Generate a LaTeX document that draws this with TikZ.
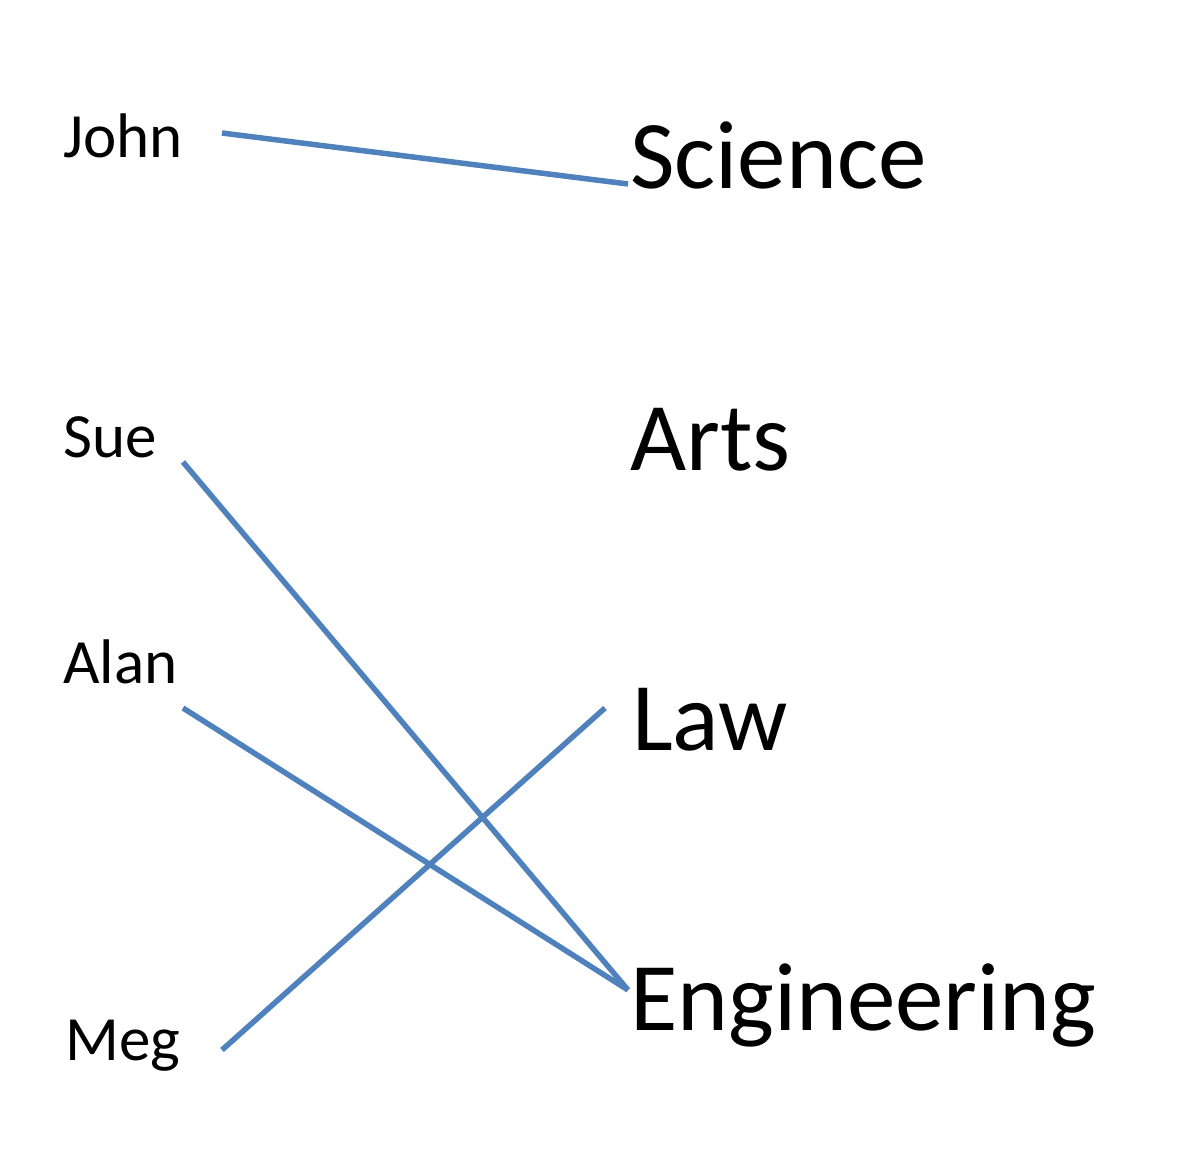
\documentclass[tikz,border=0pt]{standalone}
\usepackage{fontspec}
\setmainfont{Carlito}
\definecolor{linkblue}{HTML}{4F81BD}
\begin{document}
\begin{tikzpicture}[x=1pt,y=-1pt,
  person/.style={inner sep=0pt,anchor=base west,font=\fontsize{63}{70}\selectfont},
  field/.style={inner sep=0pt,anchor=base west,font=\fontsize{97}{110}\selectfont},
  link/.style={draw=linkblue,line width=5.5pt}]
\useasboundingbox (0,0) rectangle (1184,1162);
\node[person] (john) at (63,157) {John};
\node[person] (sue) at (63,457) {Sue};
\node[person] (alan) at (63,683) {Alan};
\node[person] (meg) at (65,1060) {Meg};
\node[field] (science) at (630,188) {Science};
\node[field] (arts) at (630,470) {Arts};
\node[field] (law) at (632,750) {Law};
\node[field] (eng) at (630,1030) {Engineering};
\coordinate (johnE) at (222,133);
\coordinate (sciE) at (628,184);
\coordinate (sueE) at (183,462);
\coordinate (alanE) at (183,708);
\coordinate (engE) at (628,990);
\coordinate (megE) at (222,1050);
\coordinate (lawE) at (605,708);
\draw[link] (johnE) -- (sciE);
\draw[link] (sueE) -- (engE);
\draw[link] (alanE) -- (engE);
\draw[link] (megE) -- (lawE);
\end{tikzpicture}
\end{document}
